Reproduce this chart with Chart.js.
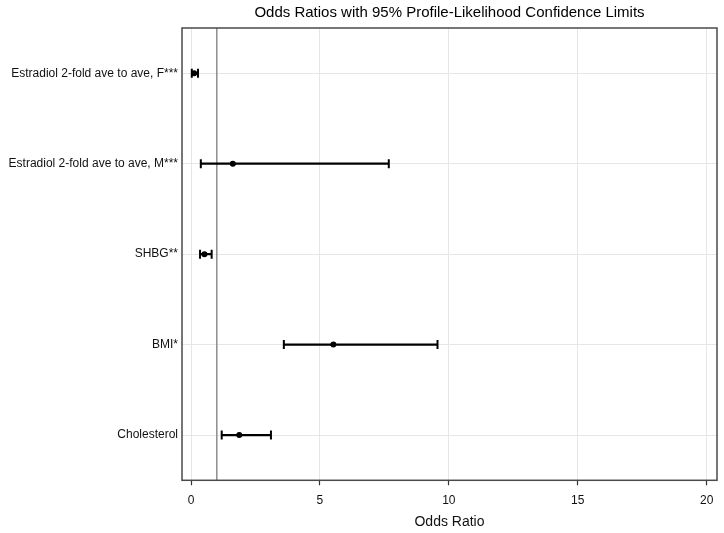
<!DOCTYPE html>
<html>
<head>
<meta charset="utf-8">
<script src="https://cdn.jsdelivr.net/npm/chart.js@4.4.1/dist/chart.umd.min.js"></script>
<style>
html,body{margin:0;padding:0;background:#fff;}
#wrap{width:724px;height:533px;}
</style>
</head>
<body>
<div id="wrap"><canvas id="c" width="724" height="533"></canvas></div>
<script>
const categories = [
  "Estradiol 2-fold ave to ave, F***",
  "Estradiol 2-fold ave to ave, M***",
  "SHBG**",
  "BMI*",
  "Cholesterol"
];
const oddsRatio = [0.12, 1.62, 0.52, 5.52, 1.87];
const lowerCL   = [0.03, 0.38, 0.35, 3.60, 1.19];
const upperCL   = [0.27, 7.67, 0.80, 9.56, 3.10];
const xTicks    = [0, 5, 10, 15, 20];
const referenceValue = 1;

const FONT = "'Liberation Sans', Arial, sans-serif";

const frameAndRef = {
  id: 'frameAndRef',
  beforeDatasetsDraw(chart) {
    const {ctx, chartArea: a, scales: {x}} = chart;
    const px = x.getPixelForValue(referenceValue);
    ctx.save();
    ctx.strokeStyle = '#8c8c8c';
    ctx.lineWidth = 1.5;
    ctx.beginPath();
    ctx.moveTo(px, a.top);
    ctx.lineTo(px, a.bottom);
    ctx.stroke();
    ctx.restore();
  },
  afterDraw(chart) {
    const {ctx, chartArea: a} = chart;
    ctx.save();
    ctx.strokeStyle = '#4a4a4a';
    ctx.lineWidth = 1.5;
    ctx.strokeRect(a.left, a.top, a.right - a.left, a.bottom - a.top);
    ctx.restore();
  }
};

new Chart(document.getElementById('c'), {
  data: {
    labels: categories,
    datasets: [
      {
        type: 'bar',
        indexAxis: 'y',
        data: lowerCL.map((l, i) => [l, upperCL[i]]),
        backgroundColor: '#000',
        borderWidth: 0,
        barThickness: 1.6,
        order: 3
      },
      {
        type: 'line',
        indexAxis: 'y',
        showLine: false,
        data: lowerCL.map((v, i) => ({x: v, y: categories[i]})),
        pointStyle: 'line',
        rotation: 90,
        pointRadius: 4.5,
        borderColor: '#000',
        pointBorderWidth: 2,
        order: 2
      },
      {
        type: 'line',
        indexAxis: 'y',
        showLine: false,
        data: upperCL.map((v, i) => ({x: v, y: categories[i]})),
        pointStyle: 'line',
        rotation: 90,
        pointRadius: 4.5,
        borderColor: '#000',
        pointBorderWidth: 2,
        order: 2
      },
      {
        type: 'line',
        indexAxis: 'y',
        showLine: false,
        data: oddsRatio.map((v, i) => ({x: v, y: categories[i]})),
        pointStyle: 'circle',
        pointRadius: 3,
        backgroundColor: '#000',
        borderColor: '#000',
        pointBorderWidth: 0,
        order: 1
      }
    ]
  },
  options: {
    responsive: false,
    animation: false,
    indexAxis: 'y',
    layout: {padding: {left: 0, right: 7, top: 4, bottom: 2.5}},
    plugins: {
      legend: {display: false},
      tooltip: {enabled: false},
      title: {
        display: true,
        fullSize: false,
        text: 'Odds Ratios with 95% Profile-Likelihood Confidence Limits',
        color: '#000',
        font: {family: FONT, size: 15, weight: 'normal'},
        padding: {top: 0, bottom: 6}
      }
    },
    scales: {
      x: {
        type: 'linear',
        min: -0.35,
        max: 20.4,
        afterBuildTicks(s) { s.ticks = xTicks.map(v => ({value: v})); },
        ticks: {
          includeBounds: false,
          color: '#111',
          font: {family: FONT, size: 12},
          padding: 8,
          maxRotation: 0
        },
        grid: {
          color: '#e6e6e6',
          lineWidth: 1,
          tickColor: '#333',
          tickLength: 5,
          tickWidth: 1.2
        },
        border: {display: false},
        title: {
          display: true,
          text: 'Odds Ratio',
          color: '#111',
          font: {family: FONT, size: 14},
          padding: {top: -2, bottom: 0}
        }
      },
      y: {
        type: 'category',
        offset: true,
        afterFit(s) { s.width = 182; },
        ticks: {
          color: '#111',
          font: {family: FONT, size: 12},
          padding: 4
        },
        grid: {
          offset: false,
          color: '#e6e6e6',
          lineWidth: 1,
          drawTicks: false
        },
        border: {display: false}
      }
    }
  },
  plugins: [frameAndRef]
});
</script>
</body>
</html>
